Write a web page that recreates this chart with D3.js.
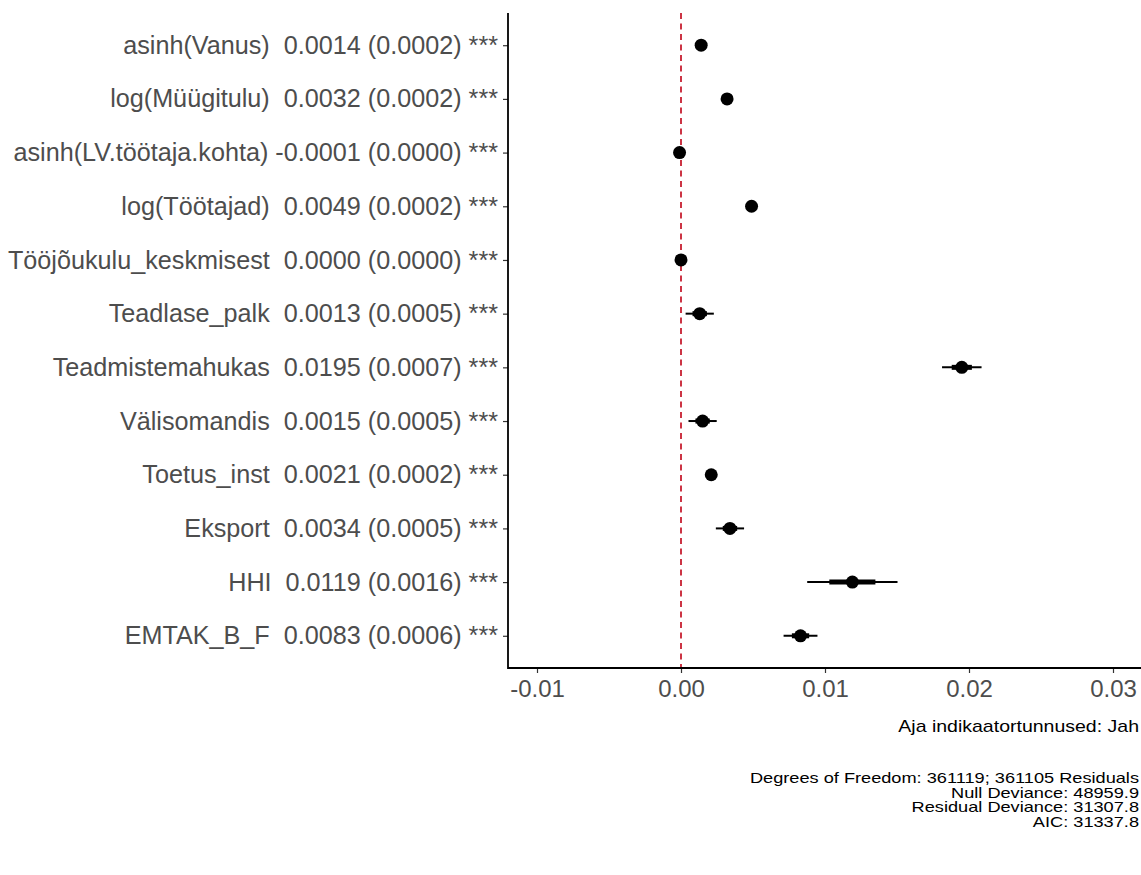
<html lang='en'>
<head>
  <meta charset='UTF-8'/>
  <title>Forest plot with D3.js</title>
  <script src='https://d3js.org/d3.v7.min.js'></script>
  <style>
    body { margin: 0; background: #fff; }
    text { font-family: 'Liberation Sans', Arial, sans-serif; }
  </style>
</head>
<body>
  <svg id="chart" width="1141" height="875"></svg>
</body>
</html>

<script>
// coefficients, top to bottom
const terms = ['asinh(Vanus)', 'log(Müügitulu)', 'asinh(LV.töötaja.kohta)', 'log(Töötajad)',
  'Tööjõukulu_keskmisest', 'Teadlase_palk', 'Teadmistemahukas', 'Välisomandis',
  'Toetus_inst', 'Eksport', 'HHI', 'EMTAK_B_F'];
const estimates = [0.0014, 0.0032, -0.0001, 0.0049, 0.0000, 0.0013, 0.0195, 0.0015, 0.0021, 0.0034, 0.0119, 0.0083];
const stdErrors = [0.0002, 0.0002, 0.0000, 0.0002, 0.0000, 0.0005, 0.0007, 0.0005, 0.0002, 0.0005, 0.0016, 0.0006];
const stars = ['***', '***', '***', '***', '***', '***', '***', '***', '***', '***', '***', '***'];
const xTicks = [-0.01, 0.00, 0.01, 0.02, 0.03];
const notes = ['Aja indikaatortunnused: Jah'];
const fitStats = ['Degrees of Freedom: 361119; 361105 Residuals', 'Null Deviance: 48959.9',
  'Residual Deviance: 31307.8', 'AIC: 31337.8'];

const svg = d3.select('#chart');
const panel = {left: 508, right: 1141, top: 13, bottom: 668};

const x = d3.scaleLinear().domain([-0.01, 0.03]).range([537, 1113]);
const y = d3.scalePoint().domain(terms).range([panel.top, panel.bottom]).padding(0.6);

const fmt = v => (v < 0 ? '' : ' ') + v.toFixed(4);
const labelOf = {};
terms.forEach((t, i) => {
  labelOf[t] = t + ' ' + fmt(estimates[i]) + ' (' + stdErrors[i].toFixed(4) + ') ' + stars[i];
});

const rows = terms.map((t, i) => ({term: t, est: estimates[i], se: stdErrors[i]}));

// zero line
svg.append('line')
  .attr('x1', x(0)).attr('x2', x(0))
  .attr('y1', panel.top).attr('y2', panel.bottom)
  .attr('stroke', '#cc3444')
  .attr('stroke-width', 2)
  .attr('stroke-dasharray', '6,4.5');

// 95% interval
svg.selectAll('.ci').data(rows).enter()
  .append('line')
  .attr('x1', d => x(d.est - 1.96 * d.se))
  .attr('x2', d => x(d.est + 1.96 * d.se))
  .attr('y1', d => y(d.term)).attr('y2', d => y(d.term))
  .attr('stroke', '#000').attr('stroke-width', 2);

// +/- 1 se
svg.selectAll('.se').data(rows).enter()
  .append('line')
  .attr('x1', d => x(d.est - d.se))
  .attr('x2', d => x(d.est + d.se))
  .attr('y1', d => y(d.term)).attr('y2', d => y(d.term))
  .attr('stroke', '#000').attr('stroke-width', 5);

svg.selectAll('.dot').data(rows).enter()
  .append('circle')
  .attr('cx', d => x(d.est))
  .attr('cy', d => y(d.term))
  .attr('r', 6.5)
  .attr('fill', '#000');

// axes
const xAxis = svg.append('g')
  .attr('transform', `translate(0,${panel.bottom})`)
  .call(d3.axisBottom(x).tickValues(xTicks).tickFormat(d => d.toFixed(2)).tickSize(5).tickPadding(7));
xAxis.select('.domain').remove();
xAxis.selectAll('line').attr('stroke', '#333').attr('stroke-width', 1.2);
xAxis.selectAll('text').attr('fill', '#4d4d4d').style('font-size', '24px');

const yAxis = svg.append('g')
  .attr('transform', `translate(${panel.left},0)`)
  .call(d3.axisLeft(y).tickFormat(t => labelOf[t]).tickSize(5).tickPadding(5));
yAxis.select('.domain').remove();
yAxis.selectAll('line').attr('stroke', '#333').attr('stroke-width', 1.2);
yAxis.selectAll('text').attr('fill', '#4d4d4d').style('font-size', '25.2px').style('white-space', 'pre');

svg.append('path')
  .attr('d', `M${panel.left},${panel.top}V${panel.bottom}H${panel.right}`)
  .attr('fill', 'none').attr('stroke', '#000').attr('stroke-width', 1.8);

// caption, slightly wide type as in the source
svg.selectAll('.note').data(notes).enter()
  .append('text')
  .attr('transform', 'translate(1139,732) scale(1.22,1)')
  .attr('text-anchor', 'end')
  .style('font-size', '16px')
  .text(d => d);

svg.selectAll('.stat').data(fitStats).enter()
  .append('text')
  .attr('transform', (d, i) => `translate(1139,${783 + i * 14.5}) scale(1.3,1)`)
  .attr('text-anchor', 'end')
  .style('font-size', '14px')
  .text(d => d);
</script>
